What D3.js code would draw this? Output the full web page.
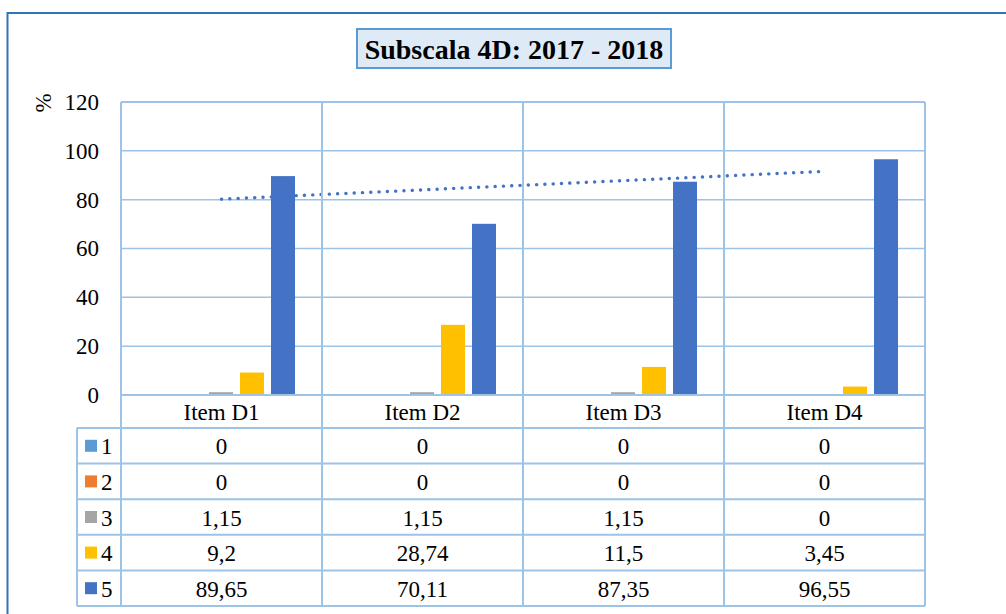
<!DOCTYPE html>
<html>
<head>
<meta charset="utf-8">
<script src="https://cdn.jsdelivr.net/npm/d3@7"></script>
<style>
  html, body { margin: 0; padding: 0; background: #fff; }
  svg { display: block; }
  text { font-family: "Liberation Serif", "Times New Roman", serif; fill: #000; }
</style>
</head>
<body>
<svg id="chart" width="1006" height="614"></svg>
<script>
const categories = ["Item D1", "Item D2", "Item D3", "Item D4"];
const seriesNames = ["1", "2", "3", "4", "5"];
const series1 = [0, 0, 0, 0];
const series2 = [0, 0, 0, 0];
const series3 = [1.15, 1.15, 1.15, 0];
const series4 = [9.2, 28.74, 11.5, 3.45];
const series5 = [89.65, 70.11, 87.35, 96.55];
const seriesLabels = [
  ["0", "0", "0", "0"],
  ["0", "0", "0", "0"],
  ["1,15", "1,15", "1,15", "0"],
  ["9,2", "28,74", "11,5", "3,45"],
  ["89,65", "70,11", "87,35", "96,55"]
];
const yTicks = [0, 20, 40, 60, 80, 100, 120];
const titleText = "Subscala 4D: 2017 - 2018";
const yAxisTitle = "%";

const seriesValues = [series1, series2, series3, series4, series5];
const colors = ["#5b9bd5", "#ed7d31", "#a5a5a5", "#ffc000", "#4472c4"];
const gridColor = "#9dc3e6";
const fs = 23;

const svg = d3.select("#chart");

// outer border
svg.append("rect").attr("x", 7.5).attr("y", 13).attr("width", 1010).attr("height", 620)
  .attr("fill", "none").attr("stroke", "#2e75b6").attr("stroke-width", 2);

// title box
const tb = svg.append("g");
tb.append("rect").attr("x", 357).attr("y", 29).attr("width", 314).attr("height", 39)
  .attr("fill", "#deebf7").attr("stroke", "#5b9bd5").attr("stroke-width", 2);
tb.append("text").attr("x", 514).attr("y", 49).attr("text-anchor", "middle")
  .attr("dominant-baseline", "central").attr("font-size", 28).attr("font-weight", "bold")
  .text(titleText);

const plotLeft = 121, plotRight = 925, plotTop = 102, zeroY = 395;
const x0 = d3.scaleBand().domain(categories).range([plotLeft, plotRight]);
const y = d3.scaleLinear().domain([0, 120]).range([zeroY, plotTop]);
const bw = x0.bandwidth();
const x1 = d3.scaleBand().domain(seriesNames)
  .range([bw * 0.1294, bw * 0.8657]).paddingInner(7 / 31);

// gridlines
svg.append("g").selectAll("line").data(yTicks.filter(d => d > 0)).join("line")
  .attr("x1", plotLeft).attr("x2", plotRight)
  .attr("y1", d => y(d)).attr("y2", d => y(d))
  .attr("stroke", gridColor).attr("stroke-width", 1.5);

// y axis labels
const yAxis = d3.axisLeft(y).tickValues(yTicks).tickSize(0).tickPadding(0);
const ya = svg.append("g").attr("transform", "translate(99,0)").call(yAxis);
ya.select(".domain").remove();
ya.attr("font-family", null).attr("font-size", null);
ya.selectAll("text").attr("font-size", fs)
  .attr("fill", "#000").attr("dy", "0.32em");

svg.append("text").attr("transform", "translate(43,103) rotate(-90)")
  .attr("text-anchor", "middle").attr("dominant-baseline", "central")
  .attr("font-size", fs).text(yAxisTitle);

// bars
const groups = svg.append("g").selectAll("g").data(categories).join("g")
  .attr("transform", d => `translate(${x0(d)},0)`);
groups.selectAll("rect").data((d, i) => seriesNames.map((s, j) => ({ s, v: seriesValues[j][i], j })))
  .join("rect")
  .attr("x", d => x1(d.s)).attr("width", x1.bandwidth())
  .attr("y", d => y(d.v)).attr("height", d => zeroY - y(d.v))
  .attr("fill", d => colors[d.j]);

// linear trendline for series 5
const xs = categories.map((c, i) => i + 1);
const mx = d3.mean(xs), my = d3.mean(series5);
const slope = d3.sum(xs.map((xv, i) => (xv - mx) * (series5[i] - my))) / d3.sum(xs.map(xv => (xv - mx) ** 2));
const icpt = my - slope * mx;
const trend = [
  [x0(categories[0]) + bw / 2, y(icpt + slope * 1)],
  [x0(categories[3]) + bw / 2, y(icpt + slope * 4)]
];
svg.append("path").attr("d", d3.line()(trend))
  .attr("fill", "none").attr("stroke", "#4472c4").attr("stroke-width", 3.4)
  .attr("stroke-linecap", "round").attr("stroke-dasharray", "0.1 8.2");

// data table
const tableTop = 428, tableBottom = 606, legLeft = 77;
const rowY = d3.scaleBand().domain(seriesNames).range([tableTop, tableBottom]);
const tg = svg.append("g");
const lineStyle = sel => sel.attr("stroke", gridColor).attr("stroke-width", 2).attr("fill", "none");

tg.append("line").attr("x1", plotLeft).attr("x2", plotRight).attr("y1", zeroY).attr("y2", zeroY).call(lineStyle);
seriesNames.forEach(s => {
  tg.append("line").attr("x1", legLeft).attr("x2", plotRight).attr("y1", rowY(s)).attr("y2", rowY(s)).call(lineStyle);
});
tg.append("line").attr("x1", legLeft).attr("x2", plotRight).attr("y1", tableBottom).attr("y2", tableBottom).call(lineStyle);
tg.append("line").attr("x1", legLeft).attr("x2", legLeft).attr("y1", tableTop).attr("y2", tableBottom).call(lineStyle);
categories.forEach(c => {
  tg.append("line").attr("x1", x0(c)).attr("x2", x0(c)).attr("y1", plotTop).attr("y2", tableBottom).call(lineStyle);
});
tg.append("line").attr("x1", plotRight).attr("x2", plotRight).attr("y1", plotTop).attr("y2", tableBottom).call(lineStyle);
tg.append("line").attr("x1", plotLeft).attr("x2", plotRight).attr("y1", plotTop).attr("y2", plotTop).call(lineStyle);

// header
tg.selectAll("text.hdr").data(categories).join("text").attr("class", "hdr")
  .attr("x", d => x0(d) + bw / 2).attr("y", (zeroY + tableTop) / 2 + 1)
  .attr("text-anchor", "middle").attr("dominant-baseline", "central")
  .attr("font-size", fs).text(d => d);

// legend keys and values
seriesNames.forEach((s, j) => {
  const cy = rowY(s) + rowY.bandwidth() / 2;
  tg.append("rect").attr("x", 85).attr("y", cy - 6).attr("width", 12).attr("height", 12).attr("fill", colors[j]);
  tg.append("text").attr("x", 101).attr("y", cy + 1).attr("dominant-baseline", "central")
    .attr("font-size", fs).text(s);
  categories.forEach((c, i) => {
    tg.append("text").attr("x", x0(c) + bw / 2).attr("y", cy + 1)
      .attr("text-anchor", "middle").attr("dominant-baseline", "central")
      .attr("font-size", fs).text(seriesLabels[j][i]);
  });
});
</script>
</body>
</html>
